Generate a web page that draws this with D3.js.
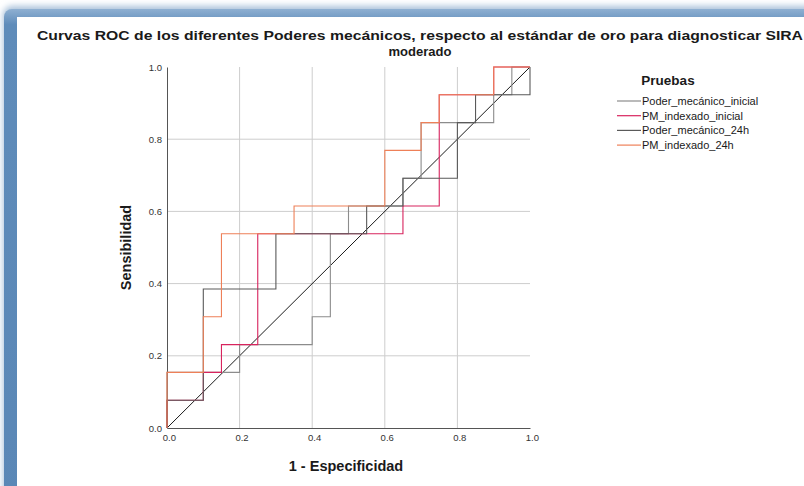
<!DOCTYPE html>
<html>
<head>
<meta charset="utf-8">
<script src="https://cdn.jsdelivr.net/npm/d3@7"></script>
<style>
  html, body { margin: 0; padding: 0; background: #ffffff; }
  svg { display: block; }
</style>
</head>
<body>
<svg id="chart" width="804" height="486"></svg>
<script>
// ROC curves: each series is the list of (1 - especificidad, sensibilidad) steps
const seriesNames = ["Poder_mecánico_inicial", "PM_indexado_inicial", "Poder_mecánico_24h", "PM_indexado_24h"];
const seriesColors = ["#8c8c8c", "#d8245e", "#5a5a5a", "#ee8058"];

const fprPoderInicial = [0, 0, 0.2, 0.2, 0.4, 0.4, 0.45, 0.45, 0.5, 0.5, 0.65, 0.65, 0.7, 0.7, 0.9, 0.9, 0.95, 0.95, 1];
const tprPoderInicial = [0, 0.154, 0.154, 0.231, 0.231, 0.308, 0.308, 0.538, 0.538, 0.615, 0.615, 0.692, 0.692, 0.846, 0.846, 0.923, 0.923, 1, 1];

const fprIndexInicial = [0, 0, 0.1, 0.1, 0.15, 0.15, 0.25, 0.25, 0.65, 0.65, 0.75, 0.75, 0.9, 0.9, 1];
const tprIndexInicial = [0, 0.077, 0.077, 0.154, 0.154, 0.231, 0.231, 0.538, 0.538, 0.615, 0.615, 0.923, 0.923, 1, 1];

const fprPoder24h = [0, 0, 0.1, 0.1, 0.3, 0.3, 0.55, 0.55, 0.65, 0.65, 0.8, 0.8, 0.85, 0.85, 1, 1];
const tprPoder24h = [0, 0.077, 0.077, 0.385, 0.385, 0.538, 0.538, 0.615, 0.615, 0.692, 0.692, 0.846, 0.846, 0.923, 0.923, 1];

const fprIndex24h = [0, 0, 0.1, 0.1, 0.15, 0.15, 0.35, 0.35, 0.6, 0.6, 0.7, 0.7, 0.75, 0.75, 0.9, 0.9, 1];
const tprIndex24h = [0, 0.154, 0.154, 0.308, 0.308, 0.538, 0.538, 0.615, 0.615, 0.769, 0.769, 0.846, 0.846, 0.923, 0.923, 1, 1];

const axisTicks = [0, 0.2, 0.4, 0.6, 0.8, 1.0];
const gridTicks = [0.2, 0.4, 0.6, 0.8];

const titleLine1 = "Curvas ROC de los diferentes Poderes mecánicos, respecto al estándar de oro para diagnosticar SIRA";
const titleLine2 = "moderado";
const xTitle = "1 - Especificidad";
const yTitle = "Sensibilidad";
const legendTitle = "Pruebas";

const seriesData = [
  d3.zip(fprPoderInicial, tprPoderInicial),
  d3.zip(fprIndexInicial, tprIndexInicial),
  d3.zip(fprPoder24h, tprPoder24h),
  d3.zip(fprIndex24h, tprIndex24h)
];

const svg = d3.select("#chart");
const font = "'Liberation Sans', Arial, sans-serif";

// Frame: soft shadow plus steel-blue border around the white panel
const defs = svg.append("defs");
const blur = defs.append("filter").attr("id", "soft").attr("x", "-10%").attr("y", "-10%").attr("width", "130%").attr("height", "130%");
blur.append("feGaussianBlur").attr("stdDeviation", 3);
const topGrad = defs.append("linearGradient").attr("id", "frameGrad").attr("x1", 0).attr("y1", 0).attr("x2", 0).attr("y2", 1);
topGrad.append("stop").attr("offset", "0").attr("stop-color", "#8fb0d2");
topGrad.append("stop").attr("offset", "0.03").attr("stop-color", "#5f8cba");
topGrad.append("stop").attr("offset", "1").attr("stop-color", "#5a87b6");

svg.append("rect").attr("x", 3).attr("y", 6).attr("width", 840).attr("height", 520)
  .attr("rx", 9).attr("fill", "#a9c1da").attr("filter", "url(#soft)");
svg.append("rect").attr("x", 4).attr("y", 9).attr("width", 840).attr("height", 520)
  .attr("rx", 8).attr("fill", "url(#frameGrad)");
svg.append("rect").attr("x", 17).attr("y", 17).attr("width", 820).attr("height", 500)
  .attr("fill", "#ffffff");

// Scales
const x = d3.scaleLinear().domain([0, 1]).range([167, 530]);
const y = d3.scaleLinear().domain([0, 1]).range([428, 67]);

// Gridlines
const grid = svg.append("g").attr("stroke", "#cdcdcd").attr("stroke-width", 1);
grid.selectAll("line.gx").data(gridTicks).join("line").attr("class", "gx")
  .attr("x1", d => x(d)).attr("x2", d => x(d)).attr("y1", y(0)).attr("y2", y(1));
grid.selectAll("line.gy").data(gridTicks).join("line").attr("class", "gy")
  .attr("x1", x(0)).attr("x2", x(1)).attr("y1", d => y(d)).attr("y2", d => y(d));

// Axes
const fmt = d3.format(".1f");
const xAxis = svg.append("g").attr("transform", `translate(0,${y(0)})`)
  .call(d3.axisBottom(x).tickValues(axisTicks).tickFormat(fmt).tickSize(0).tickPadding(6));
const yAxis = svg.append("g").attr("transform", `translate(${x(0)},0)`)
  .call(d3.axisLeft(y).tickValues(axisTicks).tickFormat(fmt).tickSize(0).tickPadding(5));
[xAxis, yAxis].forEach(g => {
  g.select(".domain").attr("stroke", "#555555").attr("stroke-width", 1);
  g.selectAll("text").attr("font-family", font).attr("font-size", 9.5).attr("fill", "#333333");
});
xAxis.selectAll("text").attr("dx", "0.2em");

// Reference diagonal
svg.append("line")
  .attr("x1", x(0)).attr("y1", y(0)).attr("x2", x(1)).attr("y2", y(1))
  .attr("stroke", "#1a1a1a").attr("stroke-width", 1);

// ROC curves
const line = d3.line().x(d => x(d[0])).y(d => y(d[1]));
svg.append("g").selectAll("path").data(seriesData).join("path")
  .attr("d", line)
  .attr("fill", "none")
  .attr("stroke", (d, i) => seriesColors[i])
  .attr("stroke-width", 1.1);

// Titles
svg.append("text").attr("x", 420).attr("y", 40)
  .attr("text-anchor", "middle").attr("font-family", font)
  .attr("font-weight", "bold").attr("font-size", 13.5).attr("fill", "#1a1a1a")
  .attr("textLength", 766).attr("lengthAdjust", "spacingAndGlyphs")
  .text(titleLine1);
svg.append("text").attr("x", 420).attr("y", 56)
  .attr("text-anchor", "middle").attr("font-family", font)
  .attr("font-weight", "bold").attr("font-size", 12.5).attr("fill", "#1a1a1a")
  .attr("textLength", 63).attr("lengthAdjust", "spacingAndGlyphs")
  .text(titleLine2);

svg.append("text").attr("x", 346).attr("y", 471).attr("text-anchor", "middle")
  .attr("font-family", font).attr("font-weight", "bold").attr("font-size", 14.5)
  .attr("fill", "#1a1a1a").text(xTitle);
svg.append("text").attr("transform", `translate(131,${(y(0) + y(1)) / 2}) rotate(-90)`)
  .attr("text-anchor", "middle").attr("font-family", font).attr("font-weight", "bold")
  .attr("font-size", 14.5).attr("fill", "#1a1a1a").text(yTitle);

// Legend
const legend = svg.append("g");
legend.append("text").attr("x", 668).attr("y", 85).attr("text-anchor", "middle")
  .attr("font-family", font).attr("font-weight", "bold").attr("font-size", 13.5)
  .attr("fill", "#1a1a1a").text(legendTitle);
const items = legend.selectAll("g.item").data(seriesNames).join("g").attr("class", "item")
  .attr("transform", (d, i) => `translate(0,${101 + i * 14.7})`);
items.append("line").attr("x1", 617).attr("x2", 641).attr("y1", 0).attr("y2", 0)
  .attr("stroke", (d, i) => seriesColors[i]).attr("stroke-width", 1.2);
items.append("text").attr("x", 642).attr("y", 4).attr("font-family", font)
  .attr("font-size", 11).attr("fill", "#1a1a1a").text(d => d);
</script>
</body>
</html>
